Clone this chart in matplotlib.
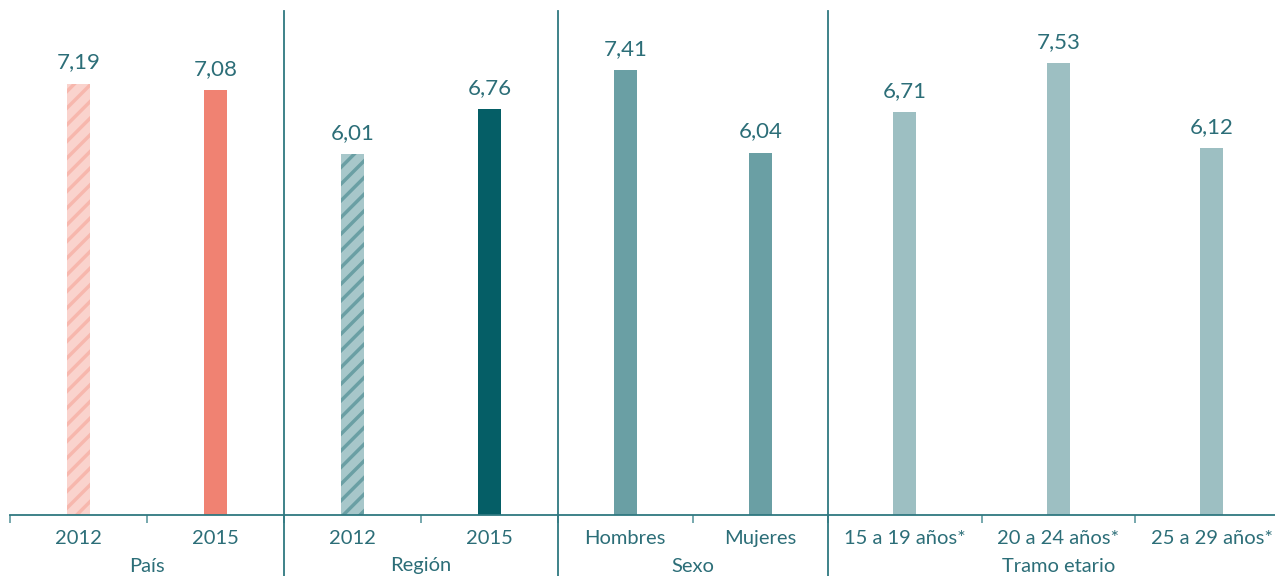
import matplotlib
matplotlib.use("Agg")
import matplotlib.pyplot as plt
import matplotlib.transforms as mtransforms
import numpy as np

# ---- data ----
groups = ["País", "Región", "Sexo", "Tramo etario"]
group_sizes = [2, 2, 2, 3]
categories = ["2012", "2015", "2012", "2015", "Hombres", "Mujeres",
              "15 a 19 años*", "20 a 24 años*", "25 a 29 años*"]
values = [7.19, 7.08, 6.01, 6.76, 7.41, 6.04, 6.71, 7.53, 6.12]
value_labels = ["7,19", "7,08", "6,01", "6,76", "7,41", "6,04", "6,71", "7,53", "6,12"]

# ---- style ----
face_colors = ["#f7b7ad", "#f08272", "#6a9fa4", "#055e66", "#6a9fa4", "#6a9fa4",
               "#9dbfc2", "#9dbfc2", "#9dbfc2"]
hatch_colors = ["#fad3cd", None, "#a7c7ca", None, None, None, None, None, None]
text_color = "#2c6e78"
line_color = "#2f7880"

plt.rcParams["font.family"] = ["Lato", "DejaVu Sans"]
plt.rcParams["hatch.linewidth"] = 6

W, H = 1275, 576
fig = plt.figure(figsize=(W / 100, H / 100), dpi=100)

# slot widths in pixels (layout): age slots are wider
slot_px = np.array([137.0, 137.3, 136.7, 136.7, 135.0, 135.3, 154.0, 153.0, 153.5])
px_per_unit = 100.0
slot_w = slot_px / px_per_unit
edges = np.concatenate([[0], np.cumsum(slot_w)])
centers = (edges[:-1] + edges[1:]) / 2
total = edges[-1]
ax_left_px = 10
ax_bottom_px = 61
ax_top_px = 11
ax = fig.add_axes([ax_left_px / W, ax_bottom_px / H,
                   total * px_per_unit / W, (H - ax_bottom_px - ax_top_px) / H])
ax.set_xlim(0, total)
ax.set_ylim(0, 8.4)

bar_w = 23 / px_per_unit
for i, v in enumerate(values):
    if hatch_colors[i] is not None:
        ax.bar(centers[i], v, width=bar_w, color=face_colors[i],
               edgecolor=hatch_colors[i], hatch="//", linewidth=0)
    else:
        ax.bar(centers[i], v, width=bar_w, color=face_colors[i], linewidth=0)
    ax.annotate(value_labels[i], (centers[i], v), xytext=(0, 8),
                textcoords="offset points", ha="center", va="bottom",
                fontsize=16, color=text_color)

for s in ["top", "right", "left"]:
    ax.spines[s].set_visible(False)
ax.spines["bottom"].set_color(line_color)
ax.spines["bottom"].set_linewidth(1.3)
ax.set_yticks([])

ax.set_xticks(edges)
ax.set_xticklabels([])
ax.tick_params(axis="x", which="major", length=6, width=1.2, color="#5f9aa0")
ax.set_xticks(centers, minor=True)
ax.set_xticklabels(categories, minor=True, fontsize=14.5, color=text_color)
ax.tick_params(axis="x", which="minor", length=0, pad=11)

# group separators and labels
trans = mtransforms.blended_transform_factory(ax.transData, ax.transAxes)
axis_h_px = H - ax_bottom_px - ax_top_px
gstart = 0
for gi, (g, n) in enumerate(zip(groups, group_sizes)):
    gend = gstart + n
    if gi > 0:
        ax.plot([edges[gstart], edges[gstart]], [-ax_bottom_px / axis_h_px, 1.0],
                transform=trans, color=line_color, linewidth=1.3, clip_on=False)
    gc = (edges[gstart] + edges[gend]) / 2
    ax.text(gc, -51 / axis_h_px, g, transform=trans, ha="center", va="center",
            fontsize=14.5, color=text_color)
    gstart = gend

fig.savefig("out.png", dpi=100)
